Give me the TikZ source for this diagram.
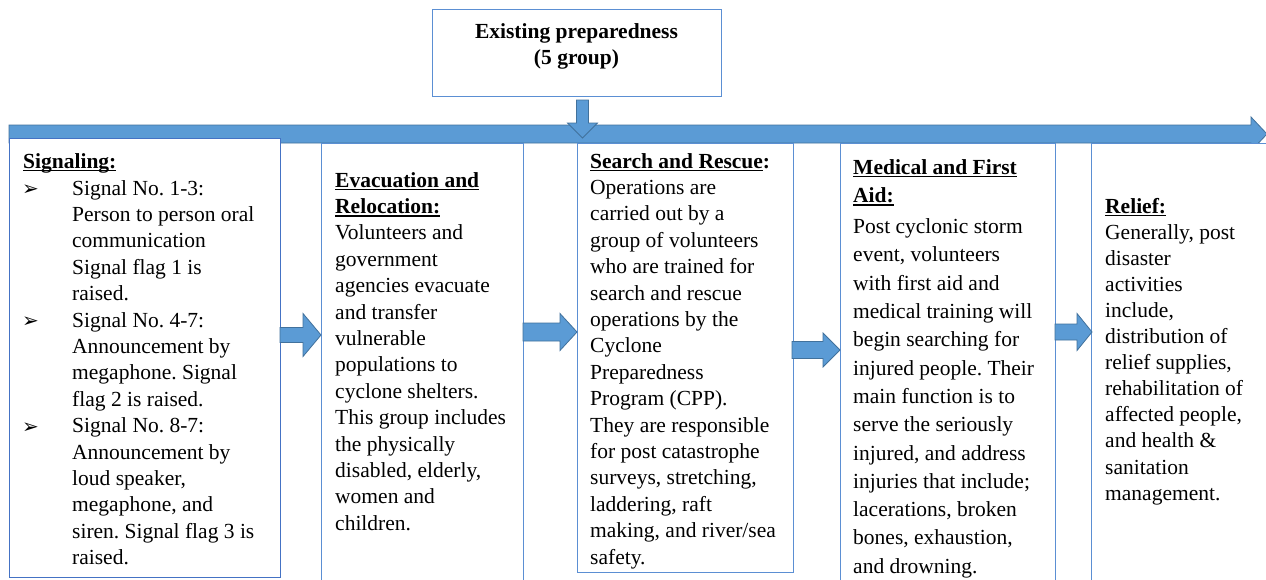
\documentclass[tikz,border=0pt]{standalone}
\usepackage{fontspec}
\setmainfont{Liberation Serif}
\newfontfamily\dejavu{DejaVu Sans}
\frenchspacing
\definecolor{afill}{HTML}{5B9BD5}
\definecolor{aline}{HTML}{41719C}
\definecolor{bline}{HTML}{5B8FD3}
\definecolor{sline}{HTML}{4472C4}
\newcommand\myul[1]{\setbox0\hbox{#1}\rlap{\rule[-3.2pt]{\wd0}{1.6pt}}\box0}
\newcommand\hd[1]{{\bfseries\myul{#1}}}
\newcommand\harrow[6]{% x0, x1(tip), yc, shaft half, head half, head length
  \draw[blk] (#1,#3-#4) -- (#2-#6,#3-#4) -- (#2-#6,#3-#5) -- (#2,#3)
    -- (#2-#6,#3+#5) -- (#2-#6,#3+#4) -- (#1,#3+#4) -- cycle;}
\begin{document}
\begin{tikzpicture}[x=1pt,y=-1pt,
  box/.style={draw=bline, line width=1.3pt, fill=white, rectangle, inner sep=0pt, anchor=north west},
  blk/.style={fill=afill, draw=aline, line width=0.8pt, line join=miter},
  txt/.style={anchor=base west, align=left, inner sep=0pt, font=\fontsize{21.5}{26.4}\selectfont},
  bul/.style={anchor=base west, inner sep=0pt, font=\dejavu\fontsize{20}{22}\selectfont}]
\clip (0,0) rectangle (1266,579);
\fill[white] (0,0) rectangle (1266,579);
% title box
\node[box, minimum width=289pt, minimum height=87pt] (top) at (432,9) {};
\node[anchor=base, align=center, inner sep=0pt, font=\bfseries\fontsize{21.5}{26.4}\selectfont] (toptxt) at (576.5,64.4) {Existing preparedness\\(5 group)};
% big horizontal arrow
\draw[blk] (9,125) -- (1251,125) -- (1251,117) -- (1267,134) -- (1251,151) -- (1251,143) -- (9,143) -- cycle;
% boxes
\node[box, draw=sline, minimum width=271pt, minimum height=439pt] (sig) at (9,138) {};
\node[box, minimum width=202pt, minimum height=460pt] (evac) at (321,143) {};
\node[box, minimum width=216pt, minimum height=429pt] (sar) at (577,143) {};
\node[box, minimum width=215pt, minimum height=460pt] (med) at (840,143) {};
\node[box, minimum width=220pt, minimum height=460pt] (rel) at (1091,143) {};
% down arrow from title box
\draw[blk] (576.5,100) -- (588.5,100) -- (588.5,123) -- (597.5,123) -- (582.5,138) -- (567.5,123) -- (576.5,123) -- cycle;
% arrows between boxes
\harrow{280}{321}{335}{7.5}{21.5}{18}
\harrow{523}{577}{332}{9}{18.5}{17}
\harrow{792}{840}{350}{8.5}{17}{17}
\harrow{1055}{1092}{332}{8}{18.5}{15}
% signaling text (base anchor = last line)
\node[txt] (sigh) at (23,168) {\hd{Signaling:}};
\node[bul] (b1) at (22,195) {➢};
\node[bul] (b2) at (22,327) {➢};
\node[bul] (b3) at (22,433) {➢};
\node[txt] (sigt) at (72,564.6) {Signal No. 1-3:\\Person to person oral\\communication\\Signal flag 1 is\\raised.\\Signal No. 4-7:\\Announcement by\\megaphone. Signal\\flag 2 is raised.\\Signal No. 8-7:\\Announcement by\\loud speaker,\\megaphone, and\\siren. Signal flag 3 is\\raised.};
% evacuation text
\node[txt] (evt) at (335,530.2) {\hd{Evacuation and}\\\hd{Relocation:}\\Volunteers and\\government\\agencies evacuate\\and transfer\\vulnerable\\populations to\\cyclone shelters.\\This group includes\\the physically\\disabled, elderly,\\women and\\children.};
% search and rescue text
\node[txt] (sart) at (590,564) {{\bfseries\myul{Search and Rescue}:}\\Operations are\\carried out by a\\group of volunteers\\who are trained for\\search and rescue\\operations by the\\Cyclone\\Preparedness\\Program (CPP).\\They are responsible\\for post catastrophe\\surveys, stretching,\\laddering, raft\\making, and river/sea\\safety.};
% medical text
\node[txt, font=\fontsize{21.5}{28.3}\selectfont] (medt) at (853,573.2) {\hd{Medical and First}\\\hd{Aid:}\\[3pt]Post cyclonic storm\\event, volunteers\\with first aid and\\medical training will\\begin searching for\\injured people. Their\\main function is to\\serve the seriously\\injured, and address\\injuries that include;\\lacerations, broken\\bones, exhaustion,\\and drowning.};
% relief text
\node[txt, font=\fontsize{21.5}{26.1}\selectfont] (relt) at (1105,500.1) {\hd{Relief:}\\Generally, post\\disaster\\activities\\include,\\distribution of\\relief supplies,\\rehabilitation of\\affected people,\\and health \&\\sanitation\\management.};
\end{tikzpicture}
\end{document}
